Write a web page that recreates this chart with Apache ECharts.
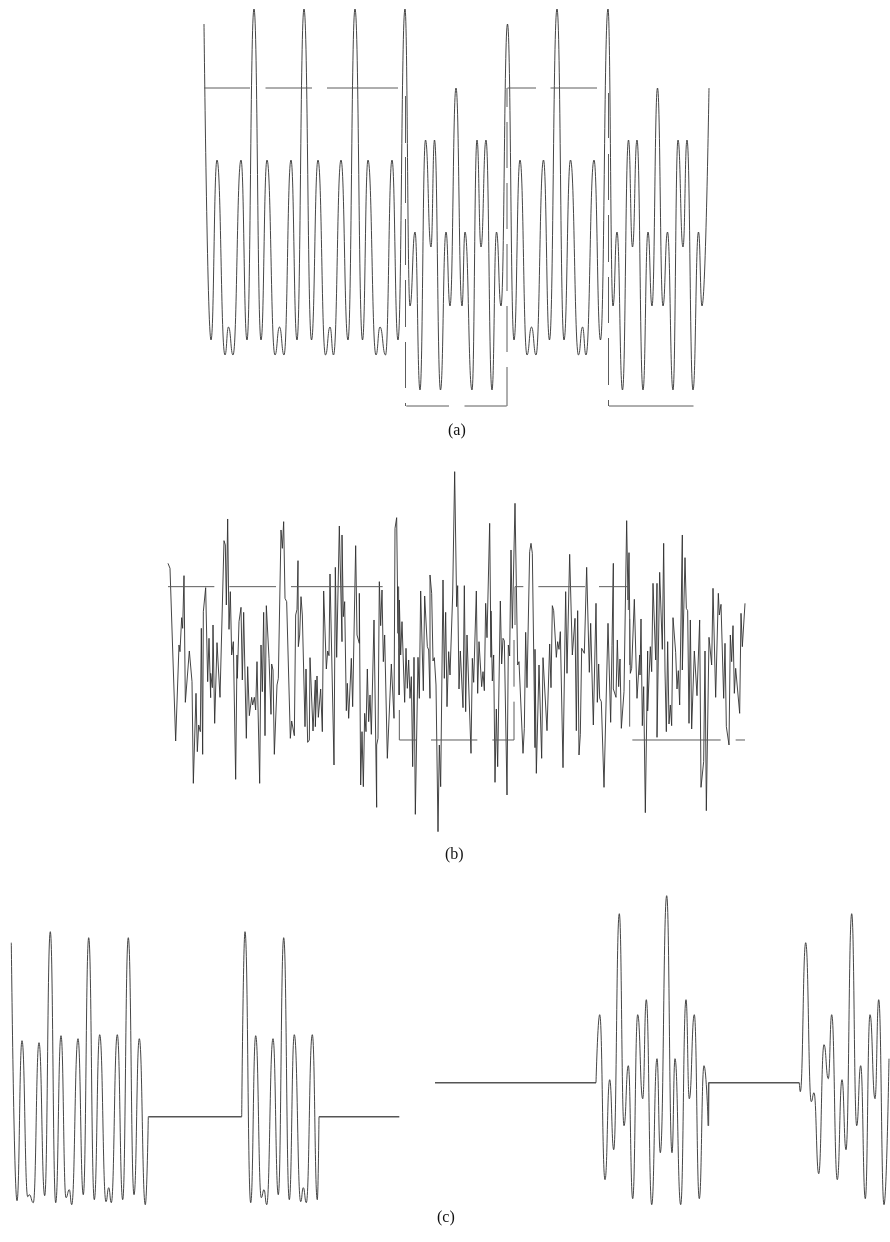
<!DOCTYPE html>
<html><head><meta charset="utf-8">
<style>html,body{margin:0;padding:0;background:#fff}#c{width:890px;height:1242px}</style>
<script src="https://cdn.jsdelivr.net/npm/echarts@6/dist/echarts.min.js"></script>
</head><body><div id="c"></div>
<script>
// Panel (a): received waveform extrema [time, amplitude]
const waveA = [[204,223],[211,-93],[217,87],[225,-108],[228.5,-80],[233,-108],[241,87],[247,-93],[254,238],[261,-93],[267,87],[275,-108],[279.5,-80],[284,-108],[291,87],[297,-93],[304,238],[311.5,-93],[318,87],[325.5,-108],[330,-80],[333.5,-108],[341,87],[348,-93],[355,238],[362.5,-93],[368,87],[376,-108],[380,-80],[385.5,-108],[392,87],[398,-93],[405,238],[410,-59],[415,15],[420,-143],[425.5,107],[431,0],[434.5,107],[440.5,-143],[446,15],[450,-59],[456,159],[462,-59],[465,15],[472,-143],[477,107],[481,0],[486,107],[492,-143],[496.5,15],[501,-59],[507.5,223],[514,-93],[520,87],[527,-108],[531.5,-80],[536,-108],[543.5,87],[549.5,-93],[557,238],[564,-93],[570.5,87],[578.5,-108],[582.5,-80],[586,-108],[594,87],[600.5,-93],[608,238],[613,-59],[617,15],[622.5,-143],[628.5,107],[632.5,0],[637,107],[643,-143],[648,15],[652,-59],[657.5,159],[663,-59],[667.5,15],[673,-143],[678,107],[683,0],[687,107],[693,-143],[698.5,15],[702,-59],[709,159]];
const levelHighA = [[204,250],[265.5,312],[327,398],[507.5,536],[550.5,597]];
const levelLowA = [[406.3,449],[464.5,506.7],[609,693.5],[708,708.6]];
const edgesA = [[405.5,151,104],[405.5,90,44],[405.5,28,-18],[405.5,-33,-80],[405.5,-95,-141],[405.5,-156,-159],[507,159,140],[507,125,79],[507,64,18],[507,3,-44],[507,-59,-105],[507,-120,-159],[608.5,154,109],[608.5,93,47],[608.5,32,-15],[608.5,-30,-76],[608.5,-91,-138],[608.5,-153,-159]];

// Panel (b): noisy waveform [time, amplitude]
const noiseB1 = [[24,300],[30,285],[47,-233],[57,55],[60,35],[65,137],[68,105],[72,263],[76,265],[76,-117],[88,37],[96,-55],[100,-360],[108,-90],[112,-265],[116,-185],[121,-205],[124,105],[128,-273],[130,155],[137,227],[143,-55],[147,75],[152,-103],[152,-30],[157,-73],[159,115],[164,-180],[171,62],[180,-102],[192,368],[196,355],[199,175],[203,433],[207,102],[211,215],[215,25],[220,65],[227,-348],[231,25],[232,-45],[237,125],[243,168],[247,-50],[251,153],[259,-225],[263,-10],[268,-157],[275,-102],[278,-125],[283,-102],[287,-140],[291,5],[299,-360],[303,55],[307,-85],[311,153],[315,-217],[319,173],[327,15],[333,-153],[335,-2],[339,-20],[343,-273],[351,-65],[355,-45],[359,-45],[363,400],[367,345],[371,425],[375,195],[380,185],[391,-225],[395,-173],[399,-171],[403,-217],[407,145],[411,162],[414,308],[415,50],[419,85],[423,200],[427,145],[435,-190],[438,-17],[443,-237],[448,-230],[450,17]];
const noiseB2 = [[459,-203],[466,-50],[466,-190],[471,-38],[475,-162],[482,-77],[487,-205],[491,217],[499,-17],[503,37],[507,23],[510,268],[522,-305],[526,288],[530,18],[538,412],[546,65],[546,385],[550,140],[554,185],[559,-142],[562,-60],[566,-165],[574,15],[578,-130],[587,353],[591,85],[598,60],[598,210],[602,-365],[606,-205],[610,-370],[614,-150],[618,-205],[622,-17],[626,-175],[630,-95],[634,-213],[642,130],[650,-432],[650,-245],[654,-225],[658,245],[662,113],[666,220],[670,5],[674,85],[682,-285],[694,-2],[702,-165],[705,405],[710,437],[714,90],[714,230],[718,-95],[718,190],[722,25],[726,125],[734,-117],[738,45],[742,-75],[746,10],[750,-105],[754,-40],[758,-310],[762,18],[766,-453],[774,18],[778,-105],[782,217],[790,-82],[794,202],[802,50],[806,40],[810,-105],[810,265],[815,210],[819,7],[823,17],[828,-65],[834,-505],[838,-245],[842,-370],[849,250],[853,-45],[857,153],[861,-130],[866,35],[870,-35],[874,-33],[878,205],[884,575]];
const noiseB3 = [[890,170],[893,233],[897,-77],[901,37],[909,-133],[913,233],[917,-145],[921,85],[933,-270],[937,15],[941,-57],[949,217],[953,-90],[957,65],[961,60],[965,-70],[969,-25],[973,-82],[977,180],[981,77],[989,420],[993,18],[993,157],[997,-53],[1001,25],[1005,-357],[1009,-137],[1013,-310],[1021,187],[1025,-2],[1029,75],[1033,68],[1041,-395],[1045,55],[1049,22],[1053,340],[1057,105],[1065,480],[1073,-5],[1077,5],[1089,-270],[1093,-195],[1097,93],[1101,-73],[1109,335],[1113,360],[1117,330],[1125,-253],[1125,42],[1129,-330],[1137,-5],[1145,-285],[1149,17],[1161,-202],[1169,58],[1173,-73],[1177,173],[1181,158],[1189,18],[1193,65],[1197,42],[1201,95],[1209,-313],[1217,215],[1221,-30],[1225,-25],[1229,327],[1233,327],[1237,25],[1245,135],[1249,-202],[1253,158],[1257,-275],[1261,-213],[1265,45],[1273,30],[1280,288],[1288,-27],[1292,120],[1300,-185],[1308,180],[1312,-117],[1316,-2],[1319,-105]];
const noiseB4 = [[1324,-115],[1332,-372],[1344,120],[1352,-177],[1356,53],[1360,300],[1360,-77],[1368,-102],[1372,70],[1376,-70],[1380,13],[1384,-195],[1392,-85],[1400,428],[1404,190],[1407,332],[1411,-30],[1415,-15],[1423,192],[1431,-105],[1439,25],[1440,-35],[1443,133],[1447,-187],[1451,-70],[1456,-448],[1463,37],[1463,-143],[1471,50],[1475,-25],[1479,240],[1487,10],[1491,240],[1491,-222],[1499,273],[1507,42],[1511,360],[1515,-23],[1519,-205],[1523,65],[1527,-182],[1531,-125],[1535,-187],[1539,137],[1547,33],[1551,-77],[1555,-22],[1559,-125],[1567,385],[1567,-20],[1575,317],[1579,165],[1583,158],[1587,-180],[1591,130],[1595,-197],[1603,37],[1611,-97],[1619,130],[1623,-372],[1631,-295],[1635,37],[1639,-442],[1647,78],[1655,-5],[1659,225],[1667,-102],[1675,210],[1678,145],[1683,177],[1691,-105],[1695,60],[1699,-190],[1707,-245],[1711,85],[1715,5],[1719,113],[1723,-90],[1727,-15],[1739,-150],[1743,150],[1747,50],[1755,180]];
const levelHighB = [[24,163],[208,348],[393,668],[1065,1090],[1135,1275],[1317,1405]];
const levelLowB = [[718,768],[813,952],[997,1062],[1417,1682],[1727,1755]];
const edgesB = [[716,230,90],[716,45,-95],[718,-140,-230],[1062,70,-70],[1062,-115,-230],[1065,230,115],[1405,230,160],[1409,133,-5],[1409,-50,-190]];

// Panel (c), left: two bursts and idle gaps
const burstC1 = [[11.3,174],[17,-84],[22,76],[27.7,-80],[29.3,-78],[33.3,-86],[39,74],[44.7,-79],[50.3,185],[55.7,-86],[61,81],[66,-81],[69.3,-73],[71.7,-88],[78,78],[83.3,-78],[88.7,179],[94.3,-83],[99.7,82],[106,-85],[108.7,-71],[111.3,-86],[117.3,82],[122.7,-83],[128.3,179],[134,-78],[139.3,78],[145.3,-88]];
const burstC2 = [[245,185],[250.7,-86],[255.7,81],[261.3,-81],[264,-73],[266.7,-88],[273,78],[278.3,-78],[283.7,179],[289.3,-83],[294.3,82],[300.7,-85],[303.3,-71],[306.3,-86],[312.3,82],[317.3,-83]];
const idleC = [[148.3,0],[241.7,0]];
const idleC2 = [[319,0],[399.3,0]];
// Panel (c), right
const burstD1 = [[596,0],[599.7,68],[605,-97],[609.7,3],[613.7,-67],[619.3,169],[624,-43],[628.3,17],[632.7,-116],[637.7,68],[642.7,-16],[646.3,83],[651.7,-122],[657,24],[660.3,-70],[666.7,187],[672,-70],[675,24],[680.7,-122],[686,83],[689.3,-16],[694.3,68],[699.3,-116],[704,17],[708.3,-43]];
const burstD2 = [[799.3,0],[800.3,-9],[805.7,140],[811.3,-19],[814,-10],[818.7,-91],[824,38],[828.3,4],[831.7,68],[837.3,-97],[842,3],[846,-67],[851.7,169],[856.7,-43],[860.7,17],[865.3,-116],[870,68],[875,-16],[878.7,83],[884,-122],[889,24]];
const idleD = [[435,0],[596,0]];
const idleD2 = [[708.4,-43],[708.7,0],[799.3,0]];

const captions = ['(a)','(b)','(c)'];

const curveStyle = {color:'#303030',width:0.9};
const levelStyle = {color:'#5c5c5c',width:1};
const idleStyle = {color:'#555555',width:1.5};
function line(i,data,style,smooth){
  return {type:'line',xAxisIndex:i,yAxisIndex:i,data,showSymbol:false,symbol:'none',clip:false,silent:true,
    smooth:smooth?0.5:false,smoothMonotone:smooth?'x':undefined,connectNulls:false,lineStyle:style,animation:false};
}
const level=(segs,v)=>segs.flatMap(([a,b])=>[[a,v],[b,v],[b,null]]);
const edges=es=>es.flatMap(([t,a,b])=>[[t,a],[t,b],[t,null]]);
const axis=(min,max)=>({type:'value',min,max,show:false,scale:true});

const option={
  backgroundColor:'#fff',animation:false,
  grid:[
    {left:200,width:510,top:7,height:400},
    {left:160,width:600,top:463.33,height:400},
    {left:0,width:420,top:917,height:300},
    {left:430,width:460,top:882.7,height:330}
  ],
  xAxis:[axis(200,710),axis(0,1800),axis(0,420),axis(430,890)].map((a,i)=>({...a,gridIndex:i})),
  yAxis:[axis(-160,240),axis(-600,600),axis(-100.3,199.7),axis(-130,200)].map((a,i)=>({...a,gridIndex:i})),
  series:[
    line(0,waveA,curveStyle,true),
    line(0,level(levelHighA,159),levelStyle),
    line(0,level(levelLowA,-159),levelStyle),
    line(0,edges(edgesA),levelStyle),
    line(1,noiseB1.concat(noiseB2,noiseB3,noiseB4),curveStyle),
    line(1,level(levelHighB,230),levelStyle),
    line(1,level(levelLowB,-230),levelStyle),
    line(1,edges(edgesB),levelStyle),
    line(2,burstC1.concat([idleC[0]]),curveStyle,true),
    line(2,idleC,idleStyle),
    line(2,[idleC[1]].concat(burstC2,[idleC2[0]]),curveStyle,true),
    line(2,idleC2,idleStyle),
    line(3,idleD,idleStyle),
    line(3,burstD1,curveStyle,true),
    line(3,idleD2,idleStyle),
    line(3,burstD2,curveStyle,true)
  ],
  graphic:[[458,431],[455,855],[447,1218]].map(([x,y],i)=>({type:'text',left:x-10,top:y-8,silent:true,
    style:{text:captions[i],fontFamily:'"Liberation Serif"',fontSize:16,fill:'#111'}}))
};
const chart=echarts.init(document.getElementById('c'),null,{renderer:'canvas',width:890,height:1242});
chart.setOption(option);
</script></body></html>
